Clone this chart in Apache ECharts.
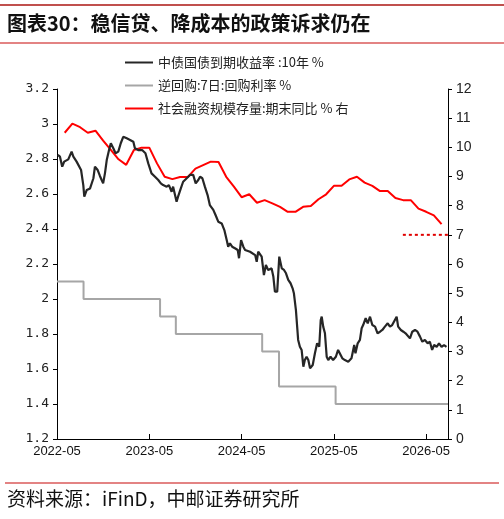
<!DOCTYPE html>
<html>
<head>
<meta charset="utf-8">
<script src="https://cdn.jsdelivr.net/npm/echarts@6/dist/echarts.min.js"></script>
<style>
html, body { margin: 0; padding: 0; background: #fff; }
#main { width: 504px; height: 519px; }
</style>
</head>
<body>
<div id="main"></div>
<script>
// 中债国债到期收益率:10年 (%)
const yieldDates = [
  '2022-05-04','2022-05-13','2022-05-22','2022-05-30','2022-06-15','2022-06-28','2022-07-05','2022-07-18',
  '2022-08-05','2022-08-14','2022-08-18','2022-08-28','2022-09-10','2022-09-23','2022-09-29','2022-10-10',
  '2022-10-19','2022-10-26','2022-11-01','2022-11-08','2022-11-15','2022-11-24','2022-12-01','2022-12-11',
  '2022-12-20','2022-12-31','2023-01-10','2023-01-20','2023-02-03','2023-02-15','2023-02-27','2023-03-05',
  '2023-03-18','2023-04-03','2023-04-16','2023-04-27','2023-05-10','2023-05-24','2023-06-06','2023-06-16',
  '2023-06-25','2023-07-09','2023-07-18','2023-07-29','2023-08-04','2023-08-18','2023-08-24','2023-09-04',
  '2023-09-13','2023-09-27','2023-10-10','2023-10-23','2023-11-02','2023-11-12','2023-11-19','2023-11-28',
  '2023-12-08','2023-12-19','2023-12-28','2024-01-11','2024-01-20','2024-01-31','2024-02-13','2024-02-23',
  '2024-03-03','2024-03-09','2024-03-16','2024-03-25','2024-04-05','2024-04-16','2024-04-21','2024-04-29',
  '2024-05-08','2024-05-15','2024-06-04','2024-06-24','2024-06-30','2024-07-06','2024-07-20','2024-07-29',
  '2024-08-06','2024-08-15','2024-08-29','2024-09-05','2024-09-11','2024-09-20','2024-09-28','2024-10-08',
  '2024-10-17','2024-10-25','2024-11-03','2024-11-12','2024-11-20','2024-11-25','2024-12-03','2024-12-08',
  '2024-12-12','2024-12-19','2024-12-26','2025-01-02','2025-01-08','2025-01-15','2025-01-22','2025-01-29',
  '2025-02-08','2025-02-16','2025-02-24','2025-03-04','2025-03-10','2025-03-14','2025-03-20','2025-03-27',
  '2025-04-03','2025-04-09','2025-04-18','2025-04-28','2025-05-09','2025-05-18','2025-05-25','2025-06-04',
  '2025-06-14','2025-06-27','2025-07-10','2025-07-21','2025-07-26','2025-08-04','2025-08-13','2025-08-20',
  '2025-08-26','2025-09-05','2025-09-13','2025-09-22','2025-10-01','2025-10-12','2025-10-22','2025-11-01',
  '2025-11-10','2025-11-20','2025-12-01','2025-12-10','2025-12-19','2025-12-27','2026-01-06','2026-01-12',
  '2026-01-23','2026-02-02','2026-02-10','2026-02-17','2026-02-26','2026-03-07','2026-03-18','2026-03-28',
  '2026-04-07','2026-04-16','2026-04-26','2026-05-07','2026-05-16','2026-05-25','2026-06-02','2026-06-12',
  '2026-06-21','2026-07-01','2026-07-11','2026-07-21'
];
const yieldValues = [
  2.823,2.813,2.756,2.785,2.798,2.842,2.813,2.785,
  2.737,2.651,2.585,2.623,2.632,2.690,2.756,2.737,
  2.703,2.680,2.661,2.718,2.794,2.851,2.890,2.861,
  2.833,2.842,2.890,2.927,2.918,2.909,2.899,2.861,
  2.851,2.851,2.833,2.775,2.718,2.699,2.680,2.661,
  2.651,2.642,2.651,2.613,2.642,2.556,2.585,2.632,
  2.670,2.690,2.709,2.709,2.661,2.680,2.699,2.690,
  2.642,2.594,2.537,2.509,2.480,2.442,2.432,2.394,
  2.337,2.299,2.318,2.299,2.290,2.280,2.233,2.337,
  2.299,2.280,2.270,2.251,2.213,2.270,2.242,2.137,
  2.194,2.166,2.175,2.127,2.042,2.042,2.242,2.175,
  2.166,2.147,2.109,2.090,2.061,2.033,1.937,1.842,
  1.766,1.727,1.709,1.613,1.651,1.670,1.651,1.604,
  1.623,1.690,1.747,1.727,1.880,1.899,1.842,1.804,
  1.670,1.651,1.670,1.651,1.670,1.709,1.718,1.661,
  1.651,1.642,1.661,1.737,1.690,1.747,1.766,1.833,
  1.851,1.890,1.861,1.899,1.851,1.842,1.804,1.813,
  1.823,1.842,1.861,1.842,1.851,1.851,1.899,1.842,
  1.823,1.813,1.804,1.794,1.775,1.813,1.823,1.813,
  1.785,1.756,1.766,1.747,1.756,1.709,1.737,1.727,
  1.747,1.727,1.737,1.727
];

// 逆回购:7日:回购利率 (%)，调整日
const repoDates = ['2022-05-01','2022-08-15','2023-06-13','2023-08-15','2024-07-22','2024-09-27','2025-05-08','2026-07-27'];
const repoValues = [2.1, 2.0, 1.9, 1.8, 1.7, 1.5, 1.4, 1.4];

// 社会融资规模存量:期末同比 (%)，月末
const tsfMonths = [
  '2022-05','2022-06','2022-07','2022-08','2022-09','2022-10','2022-11','2022-12',
  '2023-01','2023-02','2023-03','2023-04','2023-05','2023-06','2023-07','2023-08',
  '2023-09','2023-10','2023-11','2023-12','2024-01','2024-02','2024-03','2024-04',
  '2024-05','2024-06','2024-07','2024-08','2024-09','2024-10','2024-11','2024-12',
  '2025-01','2025-02','2025-03','2025-04','2025-05','2025-06','2025-07','2025-08',
  '2025-09','2025-10','2025-11','2025-12','2026-01','2026-02','2026-03','2026-04',
  '2026-05','2026-06'
];
const tsfValues = [
  10.50,10.81,10.69,10.50,10.57,10.23,9.91,9.59,
  9.40,9.91,9.99,9.99,9.45,8.99,8.91,8.98,
  8.98,9.27,9.39,9.51,9.50,8.99,8.65,8.29,
  8.39,8.10,8.19,8.08,7.96,7.79,7.79,7.96,
  7.99,8.22,8.39,8.68,8.68,8.90,8.99,8.79,
  8.68,8.50,8.50,8.26,8.19,8.19,7.90,7.79,
  7.67,7.37
];
// 红色虚线：7%
const tsfRefValue = 7;
const tsfRefDates = ['2026-01-31', '2026-07-27'];

const xTickLabels = ['2022-05', '2023-05', '2024-05', '2025-05', '2026-05'];

// 日期 -> 自2022-05起的月数
function toX(s) {
  const p = s.split('-').map(Number);
  const y = p[0], m = p[1];
  const days = new Date(y, m, 0).getDate();
  const d = p.length > 2 ? p[2] - 1 : days;
  return (y - 2022) * 12 + (m - 5) + d / days;
}
const xMax = toX('2026-07-27');

const chart = echarts.init(document.getElementById('main'));
chart.setOption({
  animation: false,
  backgroundColor: '#fff',
  graphic: [
    { type: 'line', shape: { x1: 0, y1: 5, x2: 504, y2: 5 }, style: { stroke: '#c0504d', lineWidth: 2 } },
    { type: 'text', left: 7, top: 13, style: { text: '图表30：稳信贷、降成本的政策诉求仍在', font: 'bold 20px "Noto Sans CJK SC"', fill: '#111' } },
    { type: 'line', shape: { x1: 0, y1: 43, x2: 504, y2: 43 }, style: { stroke: '#e38383', lineWidth: 2 } },
    { type: 'line', shape: { x1: 5, y1: 483, x2: 499, y2: 483 }, style: { stroke: '#e38383', lineWidth: 2 } },
    { type: 'text', left: 7, top: 489, style: { text: '资料来源：iFinD，中邮证券研究所', font: '19px "Noto Sans CJK SC"', fill: '#111' } }
  ],
  legend: {
    orient: 'vertical',
    left: 120,
    top: 50,
    icon: 'rect',
    itemWidth: 28,
    itemHeight: 2,
    itemGap: 8,
    data: ['中债国债到期收益率 :10年 %', '逆回购:7日:回购利率 %', '社会融资规模存量:期末同比 % 右'],
    textStyle: { fontSize: 13, color: '#222', fontFamily: '"Noto Sans CJK SC"', lineHeight: 15 }
  },
  grid: { left: 57, right: 56, top: 89, bottom: 80 },
  xAxis: {
    type: 'value',
    min: 0,
    max: xMax,
    interval: 12,
    splitLine: { show: false },
    axisLine: { lineStyle: { color: '#000', width: 1 } },
    axisTick: { inside: true, length: 5, lineStyle: { color: '#000' } },
    axisLabel: {
      color: '#111', fontSize: 13, fontFamily: 'Liberation Sans', margin: 6,
      showMaxLabel: false,
      formatter: v => xTickLabels[Math.round(v / 12)] || ''
    }
  },
  yAxis: [
    {
      type: 'value', min: 1.2, max: 3.2, interval: 0.2,
      splitLine: { show: false },
      axisLine: { show: true, lineStyle: { color: '#000' } },
      axisTick: { show: true, length: 4, lineStyle: { color: '#000' } },
      axisLabel: { color: '#222', fontSize: 13, fontFamily: 'DejaVu Sans Mono', margin: 8 }
    },
    {
      type: 'value', min: 0, max: 12, interval: 1, position: 'right',
      splitLine: { show: false },
      axisLine: { show: true, lineStyle: { color: '#000' } },
      axisTick: { show: true, length: 4, lineStyle: { color: '#000' } },
      axisLabel: { color: '#222', fontSize: 14, fontFamily: 'Liberation Sans', margin: 8 }
    }
  ],
  series: [
    {
      name: '中债国债到期收益率 :10年 %',
      type: 'line',
      symbol: 'none',
      yAxisIndex: 0,
      lineStyle: { color: '#262626', width: 2.2 },
      itemStyle: { color: '#262626' },
      data: yieldDates.map((d, i) => [toX(d), yieldValues[i]]),
      z: 4
    },
    {
      name: '逆回购:7日:回购利率 %',
      type: 'line',
      symbol: 'none',
      step: 'end',
      yAxisIndex: 0,
      lineStyle: { color: '#a6a6a6', width: 2 },
      itemStyle: { color: '#a6a6a6' },
      data: repoDates.map((d, i) => [toX(d), repoValues[i]])
    },
    {
      name: '社会融资规模存量:期末同比 % 右',
      type: 'line',
      symbol: 'none',
      yAxisIndex: 1,
      lineStyle: { color: '#ff0000', width: 2 },
      itemStyle: { color: '#ff0000' },
      data: tsfMonths.map((m, i) => [toX(m), tsfValues[i]]),
      z: 3
    },
    {
      name: 'ref',
      type: 'line',
      symbol: 'none',
      yAxisIndex: 1,
      lineStyle: { color: '#e00000', width: 2, type: [3, 3] },
      data: tsfRefDates.map(d => [toX(d), tsfRefValue])
    }
  ]
});
</script>
</body>
</html>
